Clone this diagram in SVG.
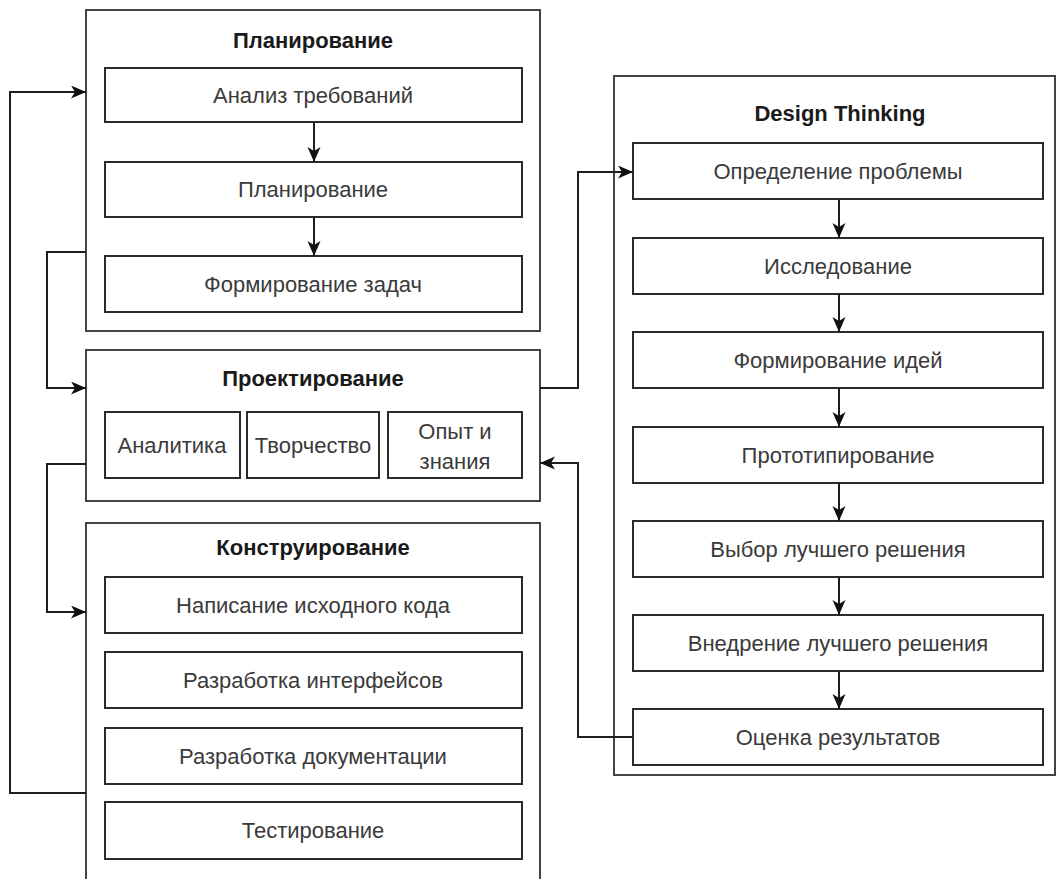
<svg xmlns="http://www.w3.org/2000/svg" width="1057" height="879" viewBox="0 0 1057 879">
  <style>
    .frame { fill: #ffffff; stroke: #444444; stroke-width: 2; }
    .box { fill: #ffffff; stroke: #2b2b2b; stroke-width: 2; }
    .title { font-family: "Liberation Sans", Arial, sans-serif; font-size: 22px; font-weight: bold; fill: #1a1a1a; text-anchor: middle; }
    .label { font-family: "Liberation Sans", Arial, sans-serif; font-size: 22px; fill: #3a3a3a; text-anchor: middle; }
    .wire { fill: none; stroke: #1e1e1e; stroke-width: 2; }
  </style>
  <defs>
    <marker id="arrow" markerUnits="userSpaceOnUse" markerWidth="16" markerHeight="14" refX="15" refY="6.5" orient="auto">
      <path d="M0,0 L15,6.5 L0,13 L4,6.5 z" fill="#111111"/>
    </marker>
  </defs>
  <rect width="1057" height="879" fill="#ffffff"/>

  <!-- Planning stage -->
  <g id="planning">
    <rect class="frame" x="86" y="10" width="454" height="321"/>
    <text class="title" x="313" y="48">Планирование</text>
    <rect class="box" x="105" y="68" width="417" height="54"/>
    <text class="label" x="313" y="103">Анализ требований</text>
    <rect class="box" x="105" y="162" width="417" height="55"/>
    <text class="label" x="313" y="197">Планирование</text>
    <rect class="box" x="105" y="256" width="417" height="56"/>
    <text class="label" x="313" y="292">Формирование задач</text>
  </g>

  <!-- Design stage -->
  <g id="design">
    <rect class="frame" x="86" y="350" width="454" height="151"/>
    <text class="title" x="313" y="386">Проектирование</text>
    <rect class="box" x="105" y="412" width="135" height="66"/>
    <text class="label" x="172" y="453">Аналитика</text>
    <rect class="box" x="247" y="412" width="132" height="66"/>
    <text class="label" x="313" y="453">Творчество</text>
    <rect class="box" x="388" y="412" width="134" height="66"/>
    <text class="label" x="455" y="439">Опыт и</text>
    <text class="label" x="455" y="469">знания</text>
  </g>

  <!-- Construction stage -->
  <g id="construction">
    <rect class="frame" x="86" y="523" width="454" height="380"/>
    <text class="title" x="313" y="555">Конструирование</text>
    <rect class="box" x="105" y="577" width="417" height="56"/>
    <text class="label" x="313" y="613">Написание исходного кода</text>
    <rect class="box" x="105" y="652" width="417" height="56"/>
    <text class="label" x="313" y="688">Разработка интерфейсов</text>
    <rect class="box" x="105" y="728" width="417" height="56"/>
    <text class="label" x="313" y="764">Разработка документации</text>
    <rect class="box" x="105" y="802" width="417" height="57"/>
    <text class="label" x="313" y="838">Тестирование</text>
  </g>

  <!-- Design Thinking cycle -->
  <g id="design-thinking">
    <rect class="frame" x="614" y="76" width="441" height="699"/>
    <text class="title" x="840" y="121">Design Thinking</text>
    <rect class="box" x="633" y="143" width="410" height="56"/>
    <text class="label" x="838" y="179">Определение проблемы</text>
    <rect class="box" x="633" y="238" width="410" height="56"/>
    <text class="label" x="838" y="274">Исследование</text>
    <rect class="box" x="633" y="332" width="410" height="56"/>
    <text class="label" x="838" y="368">Формирование идей</text>
    <rect class="box" x="633" y="427" width="410" height="56"/>
    <text class="label" x="838" y="463">Прототипирование</text>
    <rect class="box" x="633" y="521" width="410" height="56"/>
    <text class="label" x="838" y="557">Выбор лучшего решения</text>
    <rect class="box" x="633" y="615" width="410" height="56"/>
    <text class="label" x="838" y="651">Внедрение лучшего решения</text>
    <rect class="box" x="633" y="709" width="410" height="56"/>
    <text class="label" x="838" y="745">Оценка результатов</text>
  </g>

  <!-- Connectors -->
  <g id="connectors">
    <path class="wire" d="M86,793 H10 V92 H86" marker-end="url(#arrow)"/>
    <path class="wire" d="M86,252 H47 V388 H86" marker-end="url(#arrow)"/>
    <path class="wire" d="M86,464 H47 V612 H86" marker-end="url(#arrow)"/>
    <path class="wire" d="M540,388 H578 V172 H633" marker-end="url(#arrow)"/>
    <path class="wire" d="M633,737 H578 V463 H540" marker-end="url(#arrow)"/>
    <path class="wire" d="M314,122 V162" marker-end="url(#arrow)"/>
    <path class="wire" d="M314,217 V256" marker-end="url(#arrow)"/>
    <path class="wire" d="M839,199 V238" marker-end="url(#arrow)"/>
    <path class="wire" d="M839,294 V332" marker-end="url(#arrow)"/>
    <path class="wire" d="M839,388 V427" marker-end="url(#arrow)"/>
    <path class="wire" d="M839,483 V521" marker-end="url(#arrow)"/>
    <path class="wire" d="M839,577 V615" marker-end="url(#arrow)"/>
    <path class="wire" d="M839,671 V709" marker-end="url(#arrow)"/>
  </g>
</svg>
